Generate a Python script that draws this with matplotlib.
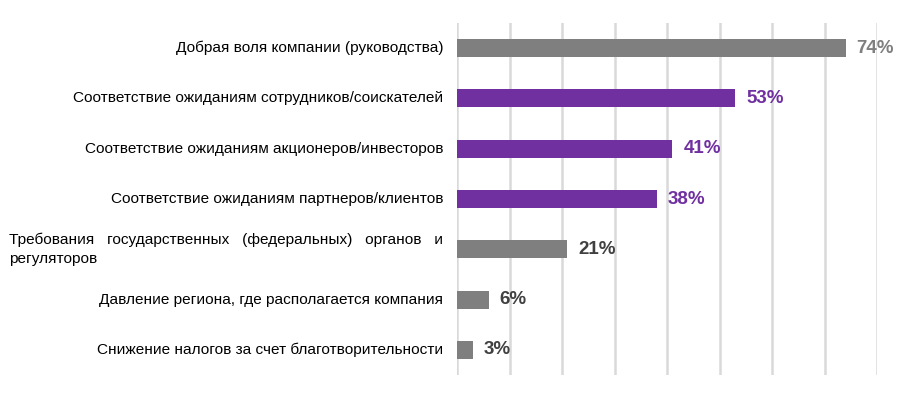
import matplotlib
matplotlib.use('Agg')
import matplotlib.pyplot as plt
from matplotlib import font_manager

# pick a condensed font if one exists
names = {f.name for f in font_manager.fontManager.ttflist}
narrow = 'Liberation Sans Narrow' if 'Liberation Sans Narrow' in names else 'Liberation Sans'
plt.rcParams['font.family'] = [narrow, 'DejaVu Sans']

categories = [
    'Добрая воля компании (руководства)',
    'Соответствие ожиданиям сотрудников/соискателей',
    'Соответствие ожиданиям акционеров/инвесторов',
    'Соответствие ожиданиям партнеров/клиентов',
    'Требования   государственных   (федеральных)   органов   и\nрегуляторов',
    'Давление региона, где располагается компания',
    'Снижение налогов за счет благотворительности',
]
values = [74, 53, 41, 38, 21, 6, 3]
bar_colors = ['#7F7F7F', '#7030A0', '#7030A0', '#7030A0', '#7F7F7F', '#7F7F7F', '#7F7F7F']
label_colors = ['#7F7F7F', '#7030A0', '#7030A0', '#7030A0', '#404040', '#404040', '#404040']

fig = plt.figure(figsize=(9, 3.99), dpi=100)
ax = fig.add_axes([457 / 900, 24 / 399, 420 / 900, 352 / 399])

y = list(range(len(categories)))
ax.barh(y, values, height=0.36, color=bar_colors, zorder=3)
ax.set_ylim(len(categories) - 0.5, -0.5)
ax.set_xlim(0, 80)
ax.set_xticks(range(0, 81, 10))
ax.xaxis.grid(True, color='#D9D9D9', lw=1.8, zorder=0)
ax.tick_params(axis='x', length=0, labelbottom=False)
ax.tick_params(axis='y', length=0, labelleft=False)
for s in ax.spines.values():
    s.set_visible(False)

for i, (v, c) in enumerate(zip(values, label_colors)):
    ax.text(v + 2.1, i, f'{v}%', va='center', ha='left', fontsize=13.5,
            fontweight='bold', color=c)

for i, cat in enumerate(categories):
    ax.annotate(cat, xy=(0, i), xytext=(-10, 0), textcoords='offset points',
                xycoords='data', ha='right', va='center', multialignment='left',
                fontsize=11.1, color='#000000', linespacing=1.45)

fig.savefig('out.png', dpi=100)
